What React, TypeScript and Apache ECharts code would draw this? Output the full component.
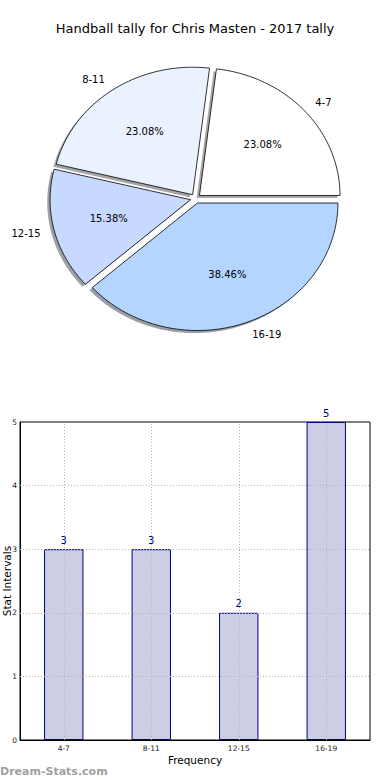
import React, { useEffect, useRef } from "react";
import * as echarts from "echarts";

const chartTitle = "Handball tally for Chris Masten - 2017 tally";
const pieLabels = ["4-7", "8-11", "12-15", "16-19"];
const pieValues = [3, 3, 2, 5];
const pieColors = ["#ffffff", "#ebf2ff", "#c7d9ff", "#b3d5ff"];
const barCategories = ["4-7", "8-11", "12-15", "16-19"];
const barValues = [3, 3, 2, 5];
const yTicks = [0, 1, 2, 3, 4, 5];
const xAxisName = "Frequency";
const yAxisName = "Stat Intervals";
const watermark = "Dream-Stats.com";

const FONT = "DejaVu Sans";
// pie geometry (elliptical, like a matplotlib pie in a non-square axes)
const CX = 195.6;
const CY = 198.6;
const RX = 140.5;
const RY = 127.5;
const EXPLODE = 0.037;
const SHADOW_D = -0.02;

const total = pieValues.reduce((a, b) => a + b, 0);

function wedgeAngles(i: number): [number, number] {
  let start = 0;
  for (let k = 0; k < i; k++) start += (pieValues[k] / total) * 360;
  return [start, start + (pieValues[i] / total) * 360];
}

function wedgeOrigin(i: number, dx: number, dy: number) {
  const [a0, a1] = wedgeAngles(i);
  const mid = (((a0 + a1) / 2) * Math.PI) / 180;
  const ox = CX + EXPLODE * RX * Math.cos(mid) + dx * RX;
  const oy = CY - EXPLODE * RY * Math.sin(mid) - dy * RY;
  return { ox, oy, mid, a0, a1 };
}

function wedgePoints(i: number, dx: number, dy: number) {
  const { ox, oy, a0, a1 } = wedgeOrigin(i, dx, dy);
  const pts: number[][] = [[ox, oy]];
  const n = Math.max(8, Math.ceil((a1 - a0) / 1.5));
  for (let j = 0; j <= n; j++) {
    const a = ((a0 + ((a1 - a0) * j) / n) * Math.PI) / 180;
    pts.push([ox + RX * Math.cos(a), oy - RY * Math.sin(a)]);
  }
  return pts;
}

function shadowColor(hex: string) {
  const r = parseInt(hex.slice(1, 3), 16);
  const g = parseInt(hex.slice(3, 5), 16);
  const b = parseInt(hex.slice(5, 7), 16);
  return `rgba(${Math.round(r * 0.3)},${Math.round(g * 0.3)},${Math.round(b * 0.3)},0.5)`;
}

export default function App() {
  const ref = useRef<HTMLDivElement>(null);
  useEffect(() => {
    if (!ref.current) return;
    const chart = echarts.init(ref.current, undefined, { renderer: "svg" });
    const option: any = {
      animation: false,
      textStyle: { fontFamily: FONT },
      title: {
        text: chartTitle,
        left: "center",
        top: 17,
        textStyle: { fontFamily: FONT, fontSize: 13, fontWeight: "normal", color: "#000" },
      },
      grid: {
        left: 20,
        right: 20,
        top: 422,
        height: 318,
        show: true,
        borderColor: "#000",
        borderWidth: 1,
        backgroundColor: "transparent",
      },
      xAxis: {
        type: "category",
        data: barCategories,
        axisLine: { show: true, lineStyle: { color: "#000", width: 1 } },
        axisTick: { show: false },
        splitLine: { show: false },
        axisLabel: { fontSize: 7.5, color: "#222", margin: 4, fontFamily: FONT },
      },
      yAxis: {
        type: "value",
        min: 0,
        max: 5,
        interval: 1,
        axisLine: { show: true, lineStyle: { color: "#000", width: 1 } },
        axisTick: { show: false },
        splitLine: { show: false },
        axisLabel: { fontSize: 7.5, color: "#222", margin: 3, fontFamily: FONT },
      },
      graphic: [
        {
          type: "text",
          x: 6.5,
          y: 581,
          rotation: Math.PI / 2,
          style: {
            text: yAxisName,
            fontSize: 10.5,
            fontFamily: FONT,
            fill: "#000",
            align: "center",
            verticalAlign: "middle",
            textAlign: "center",
            textVerticalAlign: "middle",
          },
        },
        {
          type: "text",
          x: 195,
          y: 760,
          style: {
            text: xAxisName,
            fontSize: 10.5,
            fontFamily: FONT,
            fill: "#000",
            align: "center",
            verticalAlign: "middle",
            textAlign: "center",
            textVerticalAlign: "middle",
          },
        },
        {
          type: "text",
          x: 0,
          y: 771,
          style: {
            text: watermark,
            fontSize: 11,
            fontWeight: "bold",
            fontFamily: FONT,
            fill: "#a0a0a0",
            align: "left",
            verticalAlign: "middle",
            textAlign: "left",
            textVerticalAlign: "middle",
          },
        },
      ],
      series: [
        {
          type: "custom",
          coordinateSystem: "none",
          silent: true,
          z: 1,
          data: pieValues,
          renderItem: (params: any) => {
            const i = params.dataIndex;
            return {
              type: "polygon",
              shape: { points: wedgePoints(i, SHADOW_D, SHADOW_D) },
              style: { fill: shadowColor(pieColors[i]), stroke: "none" },
            };
          },
        },
        {
          type: "custom",
          coordinateSystem: "none",
          silent: true,
          z: 2,
          data: pieValues,
          renderItem: (params: any) => {
            const i = params.dataIndex;
            const { ox, oy, mid } = wedgeOrigin(i, 0, 0);
            const pct = ((pieValues[i] / total) * 100).toFixed(2) + "%";
            const c = Math.cos(mid);
            const s = Math.sin(mid);
            const lAlign = c > 0 ? "left" : "right";
            return {
              type: "group",
              children: [
                {
                  type: "polygon",
                  shape: { points: wedgePoints(i, 0, 0) },
                  style: { fill: pieColors[i], stroke: "#000", lineWidth: 0.8 },
                },
                {
                  type: "text",
                  x: ox + 0.6 * RX * c,
                  y: oy - 0.6 * RY * s,
                  style: {
                    text: pct,
                    fontSize: 10,
                    fontFamily: FONT,
                    fill: "#000",
                    align: "center",
                    verticalAlign: "middle",
                    textAlign: "center",
                    textVerticalAlign: "middle",
                  },
                },
                {
                  type: "text",
                  x: ox + 1.1 * RX * c,
                  y: oy - 1.1 * RY * s,
                  style: {
                    text: pieLabels[i],
                    fontSize: 10,
                    fontFamily: FONT,
                    fill: "#000",
                    align: lAlign,
                    verticalAlign: "middle",
                    textAlign: lAlign,
                    textVerticalAlign: "middle",
                  },
                },
              ],
            };
          },
        },
        {
          type: "bar",
          data: barValues,
          barWidth: "45%",
          itemStyle: { color: "#cdcde6", borderColor: "#000080", borderWidth: 1 },
          label: {
            show: true,
            position: "top",
            distance: 4,
            color: "#000080",
            fontSize: 10,
            fontFamily: FONT,
          },
          emphasis: { disabled: true },
          markLine: {
            silent: true,
            symbol: "none",
            label: { show: false },
            lineStyle: { color: "#b4b4b4", type: [1, 2], width: 1 },
            data: [
              ...barCategories.map((c) => ({ xAxis: c })),
              ...yTicks.filter((t) => t > 0 && t < 5).map((t) => ({ yAxis: t })),
            ],
          },
        },
      ],
    };
    chart.setOption(option);
    return () => chart.dispose();
  }, []);
  return (
    <div
      ref={ref}
      style={{ position: "fixed", left: 0, top: 0, width: 390, height: 780, background: "#fff" }}
    />
  );
}
